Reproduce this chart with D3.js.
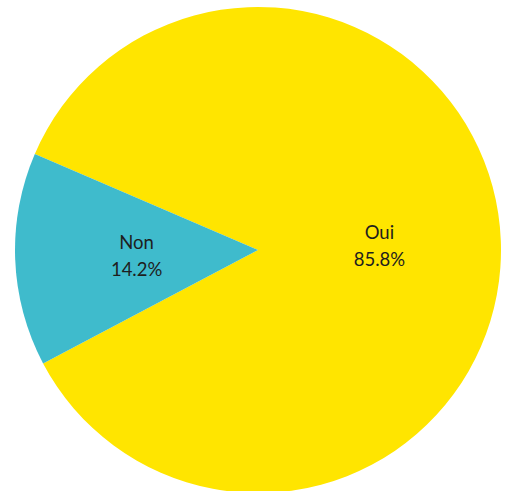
<!DOCTYPE html>
<html>
<head>
<meta charset="utf-8">
<script src="https://cdn.jsdelivr.net/npm/d3@7"></script>
<style>
  html, body { margin: 0; padding: 0; background: #fff; }
  svg { display: block; }
</style>
</head>
<body>
<svg id="chart" width="506" height="491"></svg>
<script>
// Answers and their shares (percent)
const categories = ["Oui", "Non"];
const values = [85.8, 14.2];
const colors = ["#FFE500", "#3FBBCC"];

const width = 506, height = 491;
const cx = 258, cy = 250, radius = 243;

const svg = d3.select("#chart");
const g = svg.append("g").attr("transform", `translate(${cx},${cy})`);

// First slice begins about 67° counter-clockwise from 12 o'clock
const start = -66.7 * Math.PI / 180;
const pie = d3.pie().sort(null).value(d => d.value)
  .startAngle(start).endAngle(start + 2 * Math.PI);

const data = categories.map((c, i) => ({ name: c, value: values[i], color: colors[i] }));
const arcs = pie(data);

const arc = d3.arc().innerRadius(0).outerRadius(radius);

g.selectAll("path.slice")
  .data(arcs)
  .join("path")
  .attr("class", "slice")
  .attr("d", arc)
  .attr("fill", d => d.data.color);

const fmt = d3.format(".1f");
const labels = g.selectAll("text.label")
  .data(arcs)
  .join("text")
  .attr("class", "label")
  .attr("transform", d => `translate(${arc.centroid(d)})`)
  .attr("text-anchor", "middle")
  .style("font-family", "Lato, 'Open Sans', sans-serif")
  .style("font-size", "18.5px")
  .attr("fill", "#1e1e1e");

labels.append("tspan").attr("x", 0).attr("y", -6).text(d => d.data.name);
labels.append("tspan").attr("x", 0).attr("y", 21).text(d => fmt(d.data.value) + "%");
</script>
</body>
</html>
